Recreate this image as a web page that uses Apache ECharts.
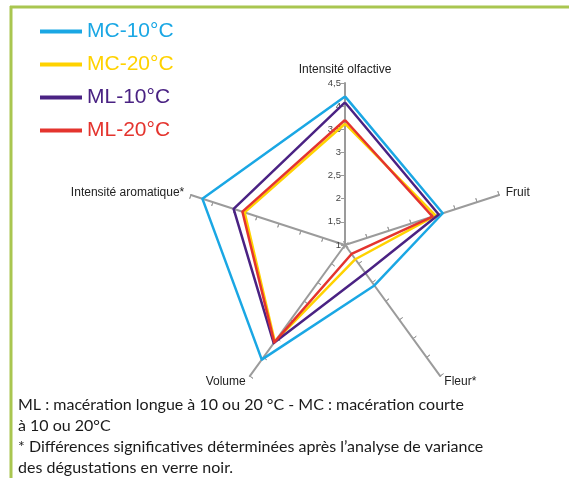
<!DOCTYPE html>
<html>
<head>
<meta charset="utf-8">
<script src="https://cdn.jsdelivr.net/npm/echarts@6/dist/echarts.min.js"></script>
<style>
  html, body { margin: 0; padding: 0; background: #fff; }
  #chart { width: 569px; height: 478px; }
</style>
</head>
<body>
<div id="chart"></div>
<script>
// Axes in counter-clockwise order starting at the top
const axisNames = ['Intensité olfactive', 'Intensité aromatique*', 'Volume', 'Fleur*', 'Fruit'];
const seriesNames = ['MC-10°C', 'MC-20°C', 'ML-10°C', 'ML-20°C'];
const seriesColors = ['#1aa7e4', '#ffd200', '#4a2283', '#e4342e'];
const mc10 = [4.21, 4.24, 4.06, 2.08, 3.22];
const mc20 = [3.62, 3.28, 3.58, 1.38, 3.06];
const ml10 = [4.08, 3.53, 3.62, 1.75, 3.13];
const ml20 = [3.70, 3.33, 3.60, 1.24, 2.99];
const notes = [
  'ML : macération longue à 10 ou 20 °C - MC : macération courte',
  'à 10 ou 20°C',
  '* Différences significatives déterminées après l\u2019analyse de variance',
  'des dégustations en verre noir.'
];

const allValues = [mc10, mc20, ml10, ml20];
const fmt = v => String(v).replace('.', ',');

// only the top axis carries tick labels
const indicators = axisNames.map((n, i) => {
  const o = { name: n, min: 1, max: 4.5 };
  if (i === 0) o.axisLabel = { show: true };
  return o;
});

const radarBase = {
  center: [345, 245],
  radius: 162,
  startAngle: 90,
  splitNumber: 7,
  shape: 'polygon',
  splitLine: { show: false },
  splitArea: { show: false }
};

const chart = echarts.init(document.getElementById('chart'), null, { renderer: 'canvas' });
chart.setOption({
  animation: false,
  backgroundColor: '#fff',
  legend: {
    orient: 'vertical',
    left: 35,
    top: 16,
    itemWidth: 42,
    itemHeight: 4,
    itemGap: 12,
    icon: 'rect',
    textStyle: { fontSize: 21, fontFamily: 'Liberation Sans' },
    data: seriesNames.map((n, i) => ({ name: n, textStyle: { color: seriesColors[i] } }))
  },
  radar: [
    Object.assign({}, radarBase, {
      indicator: indicators,
      axisName: { color: '#222', fontSize: 12, fontFamily: 'Liberation Sans' },
      nameGap: 7,
      axisLine: { lineStyle: { color: '#9b9b9b', width: 2 } },
      axisTick: { show: true, inside: false, length: 4, lineStyle: { color: '#9b9b9b', width: 1 } },
      axisLabel: { show: false, fontSize: 9.5, color: '#444', margin: 4, fontFamily: 'Liberation Sans', formatter: fmt }
    }),
    // second copy only to draw the other half of each tick mark
    Object.assign({}, radarBase, {
      indicator: axisNames.map(n => ({ name: n, min: 1, max: 4.5 })),
      axisName: { show: false },
      axisLine: { show: false },
      axisTick: { show: true, inside: true, length: 4, lineStyle: { color: '#9b9b9b', width: 1 } },
      axisLabel: { show: false }
    })
  ],
  series: [{
    type: 'radar',
    radarIndex: 0,
    symbol: 'none',
    data: seriesNames.map((n, i) => ({
      name: n,
      value: allValues[i],
      lineStyle: { color: seriesColors[i], width: 2.5 },
      itemStyle: { color: seriesColors[i] }
    }))
  }],
  graphic: [
    { type: 'line', shape: { x1: 10, y1: 7, x2: 569, y2: 7 }, style: { stroke: '#a9c650', lineWidth: 3 } },
    { type: 'line', shape: { x1: 11, y1: 6, x2: 11, y2: 478 }, style: { stroke: '#a9c650', lineWidth: 3 } }
  ].concat(notes.map((t, i) => ({
    type: 'text',
    left: 18,
    top: 397 + i * 21,
    style: { text: t, fill: '#1a1a1a', font: '16px Lato' }
  })))
});
</script>
</body>
</html>
